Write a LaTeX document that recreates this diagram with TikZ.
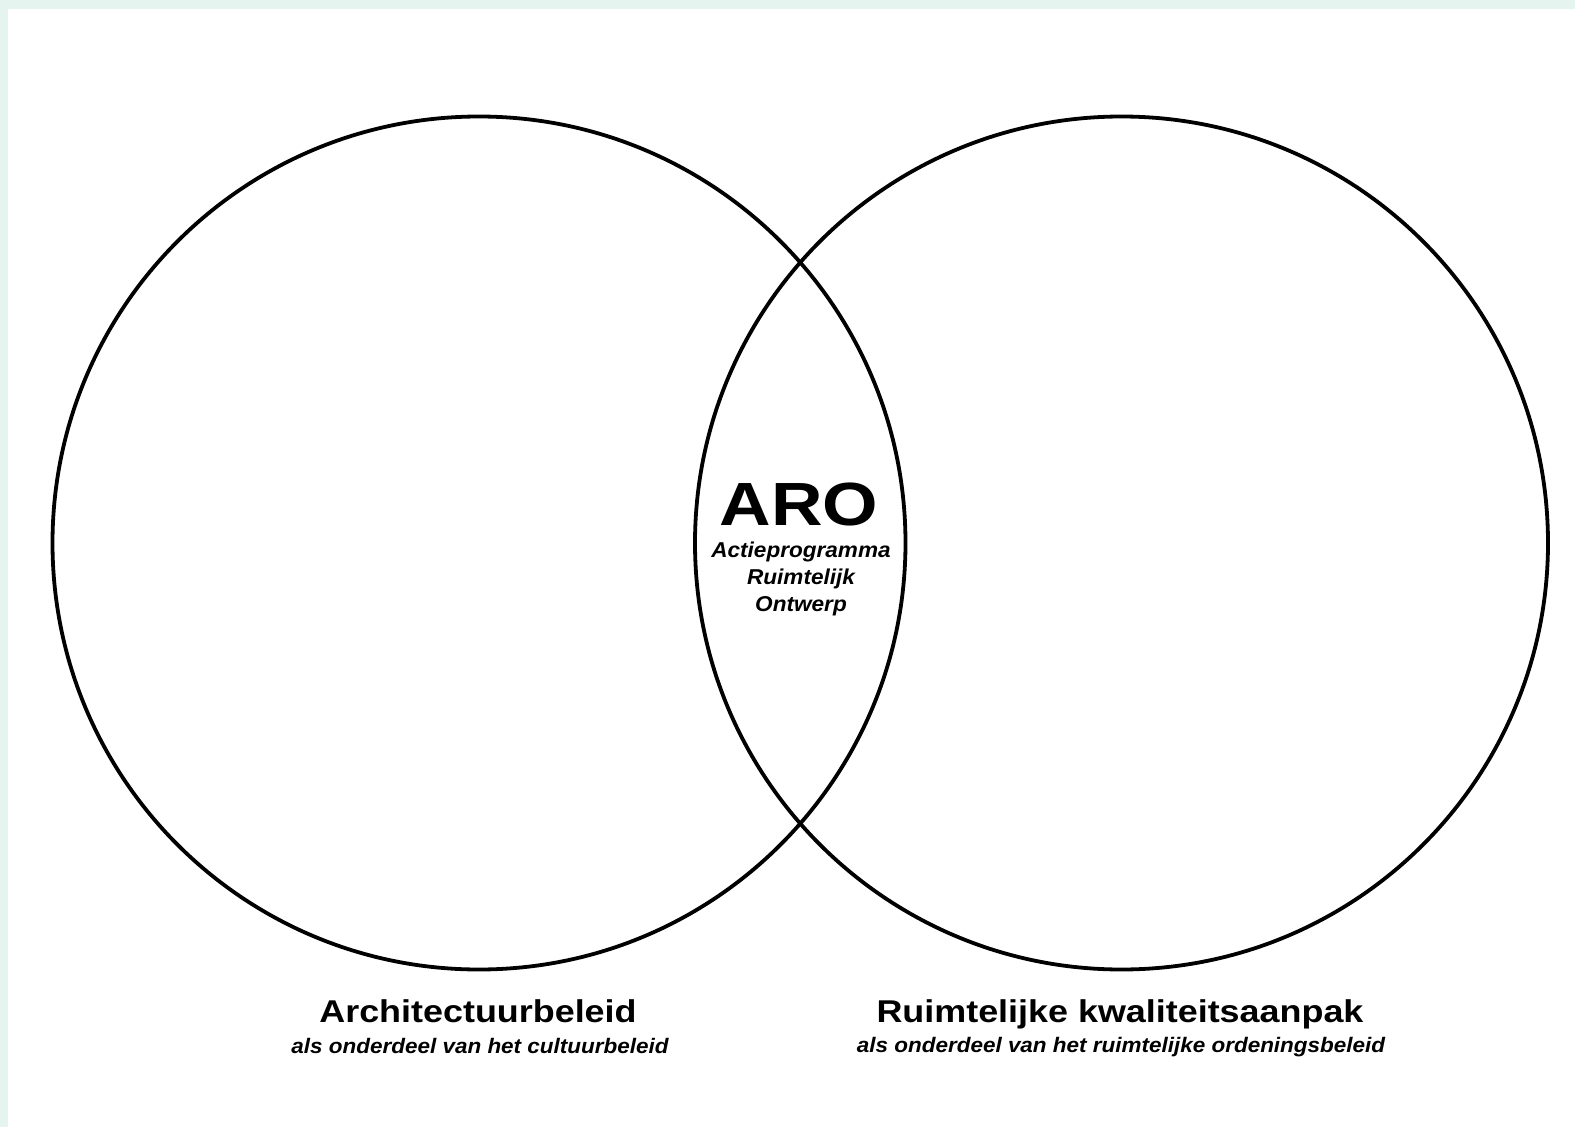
\documentclass[tikz,border=0pt]{standalone}
\usepackage{fontspec}
\setmainfont{Liberation Sans}
\newfontfamily\wideA[FakeStretch=1.17]{Liberation Sans}
\newfontfamily\wideB[FakeStretch=1.14]{Liberation Sans}
\newfontfamily\wideC[FakeStretch=1.07]{Liberation Sans}
\newfontfamily\wideD[FakeStretch=1.05]{Liberation Sans}
\definecolor{mint}{RGB}{230,244,239}
\tikzset{
  ring/.style={circle, draw=black, line width=3.8pt, minimum size=853pt, inner sep=0pt},
  txt/.style={anchor=base, inner sep=0pt, outer sep=0pt},
  title/.style={txt, font=\wideB\bfseries\fontsize{31.5}{31.5}\selectfont},
  subtitle/.style={txt, font=\wideC\bfseries\itshape\fontsize{21}{21}\selectfont},
  centerline/.style={txt, font=\wideD\bfseries\itshape\fontsize{21.5}{21.5}\selectfont},
}
\begin{document}
\begin{tikzpicture}[x=1pt,y=-1pt]
\useasboundingbox (0,0) rectangle (1575,1127);
\fill[mint] (0,0) rectangle (1575,1127);
\fill[white] (8,9) rectangle (1575,1127);
\node[ring] (left) at (479,543) {};
\node[ring] (right) at (1121.5,543) {};
\node[txt, font=\wideA\bfseries\fontsize{61}{61}\selectfont] (aro) at (799,525) {ARO};
\node[centerline] (l1) at (801,557) {Actieprogramma};
\node[centerline] (l2) at (801,584) {Ruimtelijk};
\node[centerline] (l3) at (801,611) {Ontwerp};
\node[title] (lt) at (478,1022) {Architectuurbeleid};
\node[subtitle] (ls) at (480,1053) {als onderdeel van het cultuurbeleid};
\node[title] (rt) at (1120,1022) {Ruimtelijke kwaliteitsaanpak};
\node[subtitle] (rs) at (1121,1052) {als onderdeel van het ruimtelijke ordeningsbeleid};
\end{tikzpicture}
\end{document}
